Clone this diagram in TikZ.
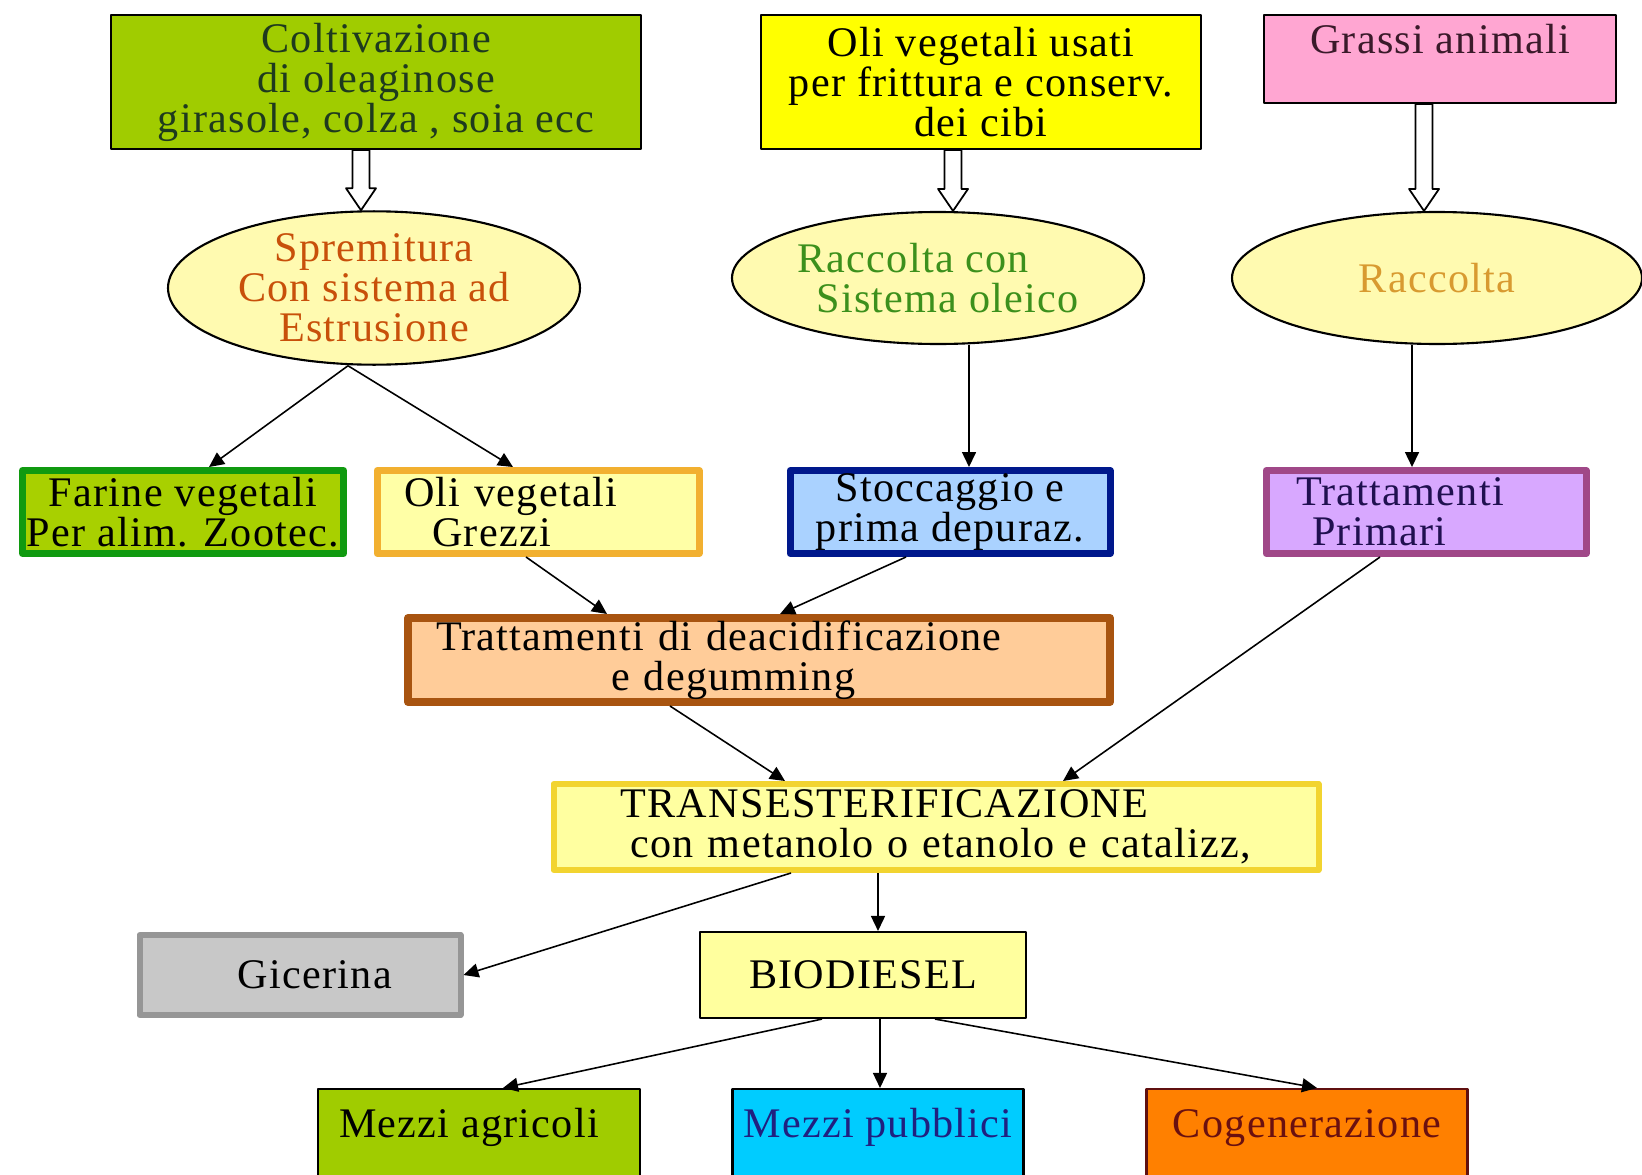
\documentclass[tikz,border=0pt]{standalone}
\usepackage{fontspec}
\setmainfont{Liberation Serif}[LetterSpace=3]
\usetikzlibrary{arrows.meta,calc,shapes.geometric}
\definecolor{coltfill}{HTML}{A0CC00}
\definecolor{colttext}{HTML}{1E3A1E}
\definecolor{usatifill}{HTML}{FFFF00}
\definecolor{grassifill}{HTML}{FFA6D2}
\definecolor{grassitext}{HTML}{3A1A2A}
\definecolor{ovalfill}{HTML}{FFFAB0}
\definecolor{spremtext}{HTML}{C8500A}
\definecolor{oleicotext}{HTML}{3C901C}
\definecolor{racctext}{HTML}{D89A30}
\definecolor{farinefill}{HTML}{A8D000}
\definecolor{farineline}{HTML}{109A10}
\definecolor{grezzifill}{HTML}{FFFFA6}
\definecolor{grezziline}{HTML}{F2B030}
\definecolor{stoccfill}{HTML}{AAD2FF}
\definecolor{stoccline}{HTML}{00188C}
\definecolor{primfill}{HTML}{D8A8FF}
\definecolor{primline}{HTML}{A04888}
\definecolor{primtext}{HTML}{201050}
\definecolor{deacfill}{HTML}{FFCC99}
\definecolor{deacline}{HTML}{A85410}
\definecolor{transfill}{HTML}{FFFFA0}
\definecolor{transline}{HTML}{F2D430}
\definecolor{glicfill}{HTML}{C8C8C8}
\definecolor{glicline}{HTML}{969696}
\definecolor{biofill}{HTML}{FFFF9E}
\definecolor{pubbfill}{HTML}{00CCFF}
\definecolor{pubbtext}{HTML}{202080}
\definecolor{cogenfill}{HTML}{FF8000}
\definecolor{cogenline}{HTML}{601010}
\definecolor{cogentext}{HTML}{6A1010}
\begin{document}
\begin{tikzpicture}[x=0.1mm,y=-0.1mm,>={Triangle[length=1.5mm,width=1.4mm]},line join=round,
	font=\fontsize{12}{11.4}\selectfont,
	box/.style={draw,rectangle,inner sep=0pt,align=center,line width=0.6pt},
	lbox/.style={draw,rectangle,inner xsep=2mm,inner ysep=0pt,align=left},
	oval/.style={draw,ellipse,fill=ovalfill,inner sep=0pt,align=center,line width=0.6pt},
	link/.style={->,line width=0.45pt},
	hollow/.style={draw=black,fill=white,line width=0.5pt,
		to path={let \p1=(\tikztostart),\p2=(\tikztotarget) in
		(\x1-0.85mm,\y1) -- (\x1-0.85mm,\y2+2.2mm) -- (\x1-1.5mm,\y2+2.2mm) -- (\x1,\y2)
		-- (\x1+1.5mm,\y2+2.2mm) -- (\x1+0.85mm,\y2+2.2mm) -- (\x1+0.85mm,\y1) -- cycle}}]
		\useasboundingbox (0,0) rectangle (1642,1174);
		\clip (0,0) rectangle (1642,1174);
		% sorgenti
		\node[box,fill=coltfill,text=colttext,minimum width=53mm,minimum height=13.4mm] (colt) at (376,82)
			{Coltivazione\\di oleaginose\\girasole, colza , soia ecc};
		\node[box,fill=usatifill,minimum width=44mm,minimum height=13.4mm] (usati) at (981,82)
			{Oli vegetali usati\\per frittura e conserv.\\dei cibi};
		\node[box,fill=grassifill,text=grassitext,minimum width=35.2mm,text height=3.9mm,text depth=4.9mm] (grassi) at (1440,59)
			{Grassi animali};
		% raccolta
		\node[oval,text=spremtext,minimum width=41.2mm,minimum height=15.2mm] (sprem) at (374,288)
			{Spremitura\\Con sistema ad\\Estrusione};
		\node[oval,text=oleicotext,align=left,minimum width=41.2mm,minimum height=13.2mm] (oleico) at (938,278)
			{Raccolta con\\\hspace*{1.9mm}Sistema oleico};
		\node[oval,text=racctext,minimum width=41mm,minimum height=13.2mm] (racc) at (1437,278)
			{Raccolta};
		% prodotti intermedi
		\node[box,fill=farinefill,draw=farineline,line width=0.7mm,minimum width=32.1mm,minimum height=8.3mm] (farine) at (183,512)
			{Farine vegetali\\Per alim. Zootec.};
		\node[lbox,fill=grezzifill,draw=grezziline,line width=0.7mm,text width=28.2mm,minimum height=8.3mm] (grezzi) at (538,512)
			{\hspace*{0.7mm}Oli vegetali\\\hspace*{3.5mm}Grezzi};
		\node[box,fill=stoccfill,draw=stoccline,line width=0.7mm,minimum width=32mm,minimum height=8.3mm] (stocc) at (950,512)
			{Stoccaggio e\\prima depuraz.};
		\node[lbox,fill=primfill,draw=primline,text=primtext,line width=0.7mm,text width=28mm,minimum height=8.3mm] (primari) at (1426,512)
			{\hspace*{1mm}Trattamenti\\\hspace*{2.6mm}Primari};
		\node[lbox,fill=deacfill,draw=deacline,line width=0.8mm,text width=66.2mm,minimum height=8.4mm] (deacid) at (759,660)
			{\hspace*{0.8mm}Trattamenti di deacidificazione\\\hspace*{18.3mm}e degumming};
		\node[lbox,fill=transfill,draw=transline,line width=0.6mm,text width=72.5mm,minimum height=8.6mm] (trans) at (936,827)
			{\hspace*{4.7mm}TRANSESTERIFICAZIONE\\\hspace*{5.7mm}con metanolo o etanolo e catalizz,};
		% prodotti finali
		\node[box,fill=glicfill,draw=glicline,line width=0.6mm,minimum width=32.1mm,minimum height=8mm] (glic) at (300,975)
			{\hspace*{3mm}Gicerina};
		\node[box,fill=biofill,minimum width=32.6mm,minimum height=8.6mm] (bio) at (863,975)
			{BIODIESEL};
		\node[box,fill=coltfill,minimum width=32.2mm,text height=4.8mm,text depth=7.2mm] (agri) at (479,1149)
			{Mezzi agricoli\hspace*{2mm}};
		\node[box,fill=pubbfill,text=pubbtext,minimum width=29.1mm,text height=4.8mm,text depth=7.2mm] (pubb) at (878,1149)
			{Mezzi pubblici};
		\node[box,fill=cogenfill,draw=cogenline,text=cogentext,minimum width=32.1mm,text height=4.8mm,text depth=7.2mm] (cogen) at (1307,1149)
			{Cogenerazione};
		% frecce vuote
		\draw[hollow] ([xshift=-1.5mm]colt.south) to (sprem.north);
		\draw[hollow] ([xshift=-2.8mm]usati.south) to (oleico.north);
		\draw[hollow] ([xshift=-1.6mm]grassi.south) to (racc.north);
		% collegamenti
		\draw[link] ([xshift=-2.6mm]sprem.south) -- ([xshift=2.6mm]farine.north);
		\draw[link] ([xshift=-2.6mm]sprem.south) -- ([xshift=-2.5mm]grezzi.north);
		\draw[link] ([xshift=3.1mm]oleico.south) -- ([xshift=3.1mm]oleico.south |- stocc.north);
		\draw[link] ([xshift=-2.5mm]racc.south) -- ([xshift=-2.5mm]racc.south |- primari.north);
		\draw[link] ([xshift=-1.2mm]grezzi.south) -- ([xshift=-15.2mm]deacid.north);
		\draw[link] ([xshift=-4.4mm]stocc.south) -- ([xshift=2.1mm]deacid.north);
		\draw[link] ([xshift=-8.9mm]deacid.south) -- ([xshift=-15.1mm]trans.north);
		\draw[link] ([xshift=-4.6mm]primari.south) -- ([xshift=12.7mm]trans.north);
		\draw[link] ([xshift=-5.8mm]trans.south) -- ([xshift=-5.8mm]trans.south |- bio.north);
		\draw[link] ([xshift=-14.5mm]trans.south) -- (glic.east);
		\draw[link] ([xshift=-4.1mm]bio.south) -- ([xshift=2.4mm]agri.north);
		\draw[link] ([xshift=1.7mm]bio.south) -- ([xshift=1.7mm]bio.south |- pubb.north);
		\draw[link] ([xshift=7.2mm]bio.south) -- ([xshift=1mm]cogen.north);
\end{tikzpicture}
\end{document}
